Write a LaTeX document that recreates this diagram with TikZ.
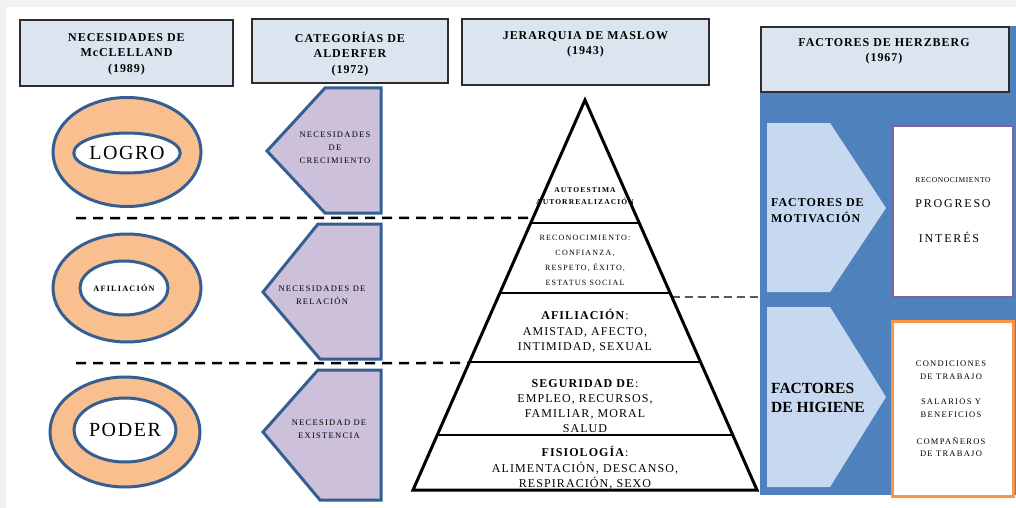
\documentclass[tikz,border=0pt]{standalone}
\usepackage{fontspec}
\setmainfont{Liberation Serif}
\newfontfamily\hdrfont[LetterSpace=8]{Liberation Serif}
\newfontfamily\widefont[LetterSpace=15]{Liberation Serif}
\newfontfamily\pyrfont[LetterSpace=9]{Liberation Serif}
\usetikzlibrary{shapes.geometric,calc}
\definecolor{bggray}{RGB}{242,242,242}
\definecolor{hdrfill}{RGB}{220,228,240}
\definecolor{hdrline}{RGB}{45,45,45}
\definecolor{ringfill}{RGB}{250,191,143}
\definecolor{ringline}{RGB}{54,95,145}
\definecolor{alfill}{RGB}{204,192,218}
\definecolor{hblue}{RGB}{79,129,189}
\definecolor{chevfill}{RGB}{198,217,241}
\definecolor{purpleline}{RGB}{128,100,162}
\definecolor{orangeline}{RGB}{247,150,70}
\tikzset{
  hdrbox/.style={draw=hdrline, line width=1.6pt, fill=hdrfill, inner sep=0pt},
  hdrtext/.style={align=center, inner sep=0pt, font=\hdrfont\bfseries\fontsize{12}{15.5}\selectfont},
  ringouter/.style={ellipse, draw=ringline, line width=3pt, fill=ringfill, inner sep=0pt},
  ringinner/.style={ellipse, draw=ringline, line width=3pt, fill=white, inner sep=0pt},
  alshape/.style={draw=ringline, line width=3pt, fill=alfill, line join=miter},
  altext/.style={align=center, inner sep=0pt, font=\widefont\fontsize{8.5}{13}\selectfont},
  sepline/.style={dashed, line width=2.5pt, dash pattern=on 10pt off 7pt},
  pyr/.style={line width=3pt, line join=miter},
  pyrtext/.style={align=center, inner sep=0pt},
  chev/.style={fill=chevfill},
  hztext/.style={align=center, inner sep=0pt, font=\widefont\fontsize{8.5}{12.5}\selectfont}
}
\begin{document}
\begin{tikzpicture}[x=1pt,y=-1pt]
\useasboundingbox (0,0) rectangle (1016,508);
\fill[bggray] (0,0) rectangle (1016,508);
\fill[white] (6,7) rectangle (1016,508);

% ---------- headers ----------
\node[hdrbox, minimum width=213pt, minimum height=66pt] (h1) at (126.5,53) {};
\node[hdrtext] (h1t) at (126.5,54) {NECESIDADES DE\\McCLELLAND\\(1989)};
\node[hdrbox, minimum width=196pt, minimum height=64pt] (h2) at (350,51) {};
\node[hdrtext] (h2t) at (350,54) {CATEGORÍAS DE\\ALDERFER\\(1972)};
\node[hdrbox, minimum width=247pt, minimum height=66pt] (h3) at (585.5,52) {};
\node[hdrtext, anchor=north] (h3t) at (585.5,31) {JERARQUIA DE MASLOW\\(1943)};

% ---------- Herzberg panel ----------
\node[fill=hblue, minimum width=256pt, minimum height=469pt, inner sep=0pt, anchor=north west] (panel) at (760,26) {};
\node[hdrbox, minimum width=248pt, minimum height=65pt, anchor=north west] (h4) at (760,26) {};
\node[hdrtext, anchor=north] (h4t) at (884,38) {FACTORES DE HERZBERG\\(1967)};

\fill[chev] (767,123) -- (830,123) -- (886,208) -- (830,292) -- (767,292) -- cycle;
\fill[chev] (767,307) -- (830,307) -- (886,397) -- (830,487) -- (767,487) -- cycle;
\node[align=left, anchor=west, inner sep=0pt, font=\hdrfont\bfseries\fontsize{12}{16}\selectfont] (mot) at (771,211) {FACTORES DE\\MOTIVACIÓN};
\node[align=left, anchor=west, inner sep=0pt, font=\bfseries\fontsize{15.5}{19}\selectfont] (hig) at (771,398) {FACTORES\\DE HIGIENE};

\node[draw=purpleline, line width=2pt, fill=white, minimum width=120pt, minimum height=171pt, inner sep=0pt, anchor=north west] (w1) at (892,125) {};
\node[hztext, font=\hdrfont\fontsize{7.5}{8}\selectfont] (w1a) at (953,180) {RECONOCIMIENTO};
\node[hztext, font=\widefont\fontsize{12}{13}\selectfont] (w1b) at (953,204) {PROGRESO};
\node[hztext, font=\widefont\fontsize{12}{13}\selectfont] (w1c) at (949,237) {INTERÉS};

\node[draw=orangeline, line width=3pt, fill=white, minimum width=121pt, minimum height=175pt, inner sep=0pt, anchor=north west] (w2) at (891,320) {};
\node[hztext] (w2a) at (951,370) {CONDICIONES\\DE TRABAJO};
\node[hztext] (w2b) at (951,408) {SALARIOS Y\\BENEFICIOS};
\node[hztext] (w2c) at (951,447) {COMPAÑEROS\\DE TRABAJO};

% ---------- McClelland rings ----------
\node[ringouter, minimum width=148pt, minimum height=109pt] (r1) at (127,152) {};
\node[ringinner, minimum width=92pt, minimum height=40pt, font=\hdrfont\fontsize{20}{22}\selectfont] (r1i) at (127,153) {LOGRO};
\node[ringouter, minimum width=148pt, minimum height=108pt] (r2) at (127,288) {};
\node[ringinner, minimum width=88pt, minimum height=54pt, font=\widefont\bfseries\fontsize{8.2}{9}\selectfont] (r2i) at (124,288) {AFILIACIÓN};
\node[ringouter, minimum width=150pt, minimum height=110pt] (r3) at (125,432) {};
\node[ringinner, minimum width=94pt, minimum height=64pt, font=\hdrfont\fontsize{20}{22}\selectfont] (r3i) at (125,430) {PODER};

% ---------- Alderfer shapes ----------
\draw[alshape] (325,88) -- (381,88) -- (381,213) -- (325,213) -- (267,151) -- cycle;
\draw[alshape] (318,224) -- (381,224) -- (381,359) -- (320,359) -- (263,292) -- cycle;
\draw[alshape] (318,370) -- (381,370) -- (381,500) -- (320,500) -- (263,432) -- cycle;
\node[altext] (a1) at (335,148) {NECESIDADES\\DE\\CRECIMIENTO};
\node[altext] (a2) at (322,295) {NECESIDADES DE\\RELACIÓN};
\node[altext] (a3) at (329,429) {NECESIDAD DE\\EXISTENCIA};

% ---------- Maslow pyramid ----------
\coordinate (apex) at (585,100);
\coordinate (bl) at (413,490);
\coordinate (br) at (757,490);
\coordinate (l1) at ($(apex)!{123/390}!(bl)$);
\coordinate (r1p) at ($(apex)!{123/390}!(br)$);
\coordinate (l2) at ($(apex)!{193/390}!(bl)$);
\coordinate (r2p) at ($(apex)!{193/390}!(br)$);
\coordinate (l3) at ($(apex)!{262/390}!(bl)$);
\coordinate (r3p) at ($(apex)!{262/390}!(br)$);
\coordinate (l4) at ($(apex)!{335/390}!(bl)$);
\coordinate (r4p) at ($(apex)!{335/390}!(br)$);
\coordinate (d1) at ($(apex)!{118/390}!(bl)$);
\coordinate (d2) at ($(apex)!{263/390}!(bl)$);
\coordinate (d3) at ($(apex)!{197/390}!(br)$);

\node[pyrtext, font=\widefont\bfseries\fontsize{7.5}{11.5}\selectfont] (p0) at (585,196) {AUTOESTIMA\\AUTORREALIZACIÓN};
\node[pyrtext, font=\widefont\fontsize{8}{15}\selectfont] (p1) at (585,260) {RECONOCIMIENTO:\\CONFIANZA,\\RESPETO, ÉXITO,\\ESTATUS SOCIAL};
\node[pyrtext, font=\pyrfont\fontsize{12}{15.5}\selectfont] (p2) at (585,331) {\textbf{AFILIACIÓN}:\\AMISTAD, AFECTO,\\INTIMIDAD, SEXUAL};
\node[pyrtext, font=\pyrfont\fontsize{12}{15}\selectfont] (p3) at (585,406) {\textbf{SEGURIDAD DE}:\\EMPLEO, RECURSOS,\\FAMILIAR, MORAL\\SALUD};
\node[pyrtext, font=\pyrfont\fontsize{12}{15.5}\selectfont] (p4) at (585,468) {\textbf{FISIOLOGÍA}:\\ALIMENTACIÓN, DESCANSO,\\RESPIRACIÓN, SEXO};

\draw[pyr] (apex) -- (bl) -- (br) -- cycle;
\draw[line width=2pt] (l1) -- (r1p);
\draw[line width=2pt] (l2) -- (r2p);
\draw[line width=2pt] (l3) -- (r3p);
\draw[line width=2pt] (l4) -- (r4p);

% ---------- dashed separators ----------
\coordinate (s1) at (76,218);
\coordinate (s2) at (76,363);
\coordinate (s3) at (760,297);
\draw[sepline] (s1) -- (d1);
\draw[sepline] (s2) -- (d2);
\draw[dashed, line width=1.3pt, dash pattern=on 8pt off 5pt] (d3) -- (s3);
\end{tikzpicture}
\end{document}
